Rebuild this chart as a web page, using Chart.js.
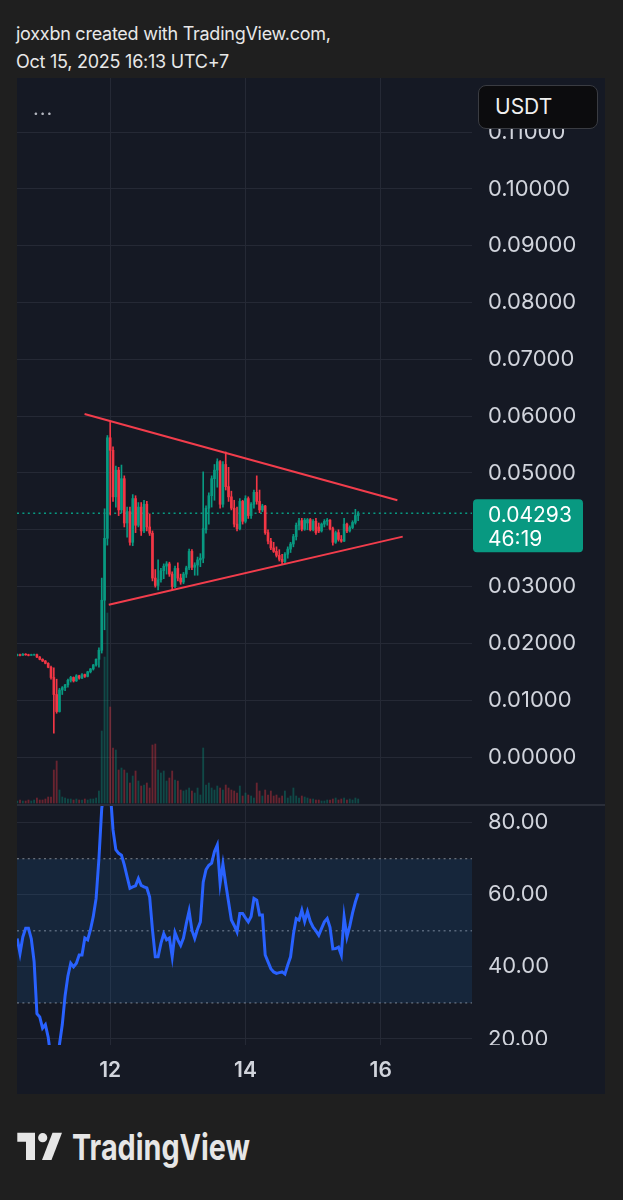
<!DOCTYPE html>
<html>
<head>
<meta charset="utf-8">
<script src="https://cdn.jsdelivr.net/npm/chart.js@4.4.1/dist/chart.umd.min.js"></script>
<style>
  html, body { margin: 0; padding: 0; background: #1f1f1f; }
  body { width: 623px; height: 1200px; position: relative; overflow: hidden; font-family: Inter, "Noto Sans", sans-serif; }
  .hdr { position: absolute; left: 16px; color: #e8e8e8; font-size: 18px; letter-spacing: -0.25px; line-height: 20px; white-space: nowrap; }
  #panel { position: absolute; left: 17px; top: 78px; width: 588px; height: 1016px; background: #151924; }
  canvas { position: absolute; left: 17px; }
  #priceCanvas { top: 78px; }
  #rsiCanvas { top: 805px; }
  #sep { position: absolute; left: 17px; top: 804px; width: 588px; height: 2px; background: #2a2e39; }
  #dots { position: absolute; left: 33px; top: 98px; color: #b2b5be; font-size: 20px; line-height: 20px; letter-spacing: 1px; }
  #unit { position: absolute; left: 478px; top: 85px; width: 120px; height: 44px; box-sizing: border-box;
          background: #0c0c0e; border: 1px solid #3a3c42; border-radius: 8px; color: #f0f0f0;
          font-size: 21px; line-height: 42px; padding-left: 16px; }
  #logo { position: absolute; left: 0; top: 1120px; }
</style>
</head>
<body>
<div class="hdr" style="top:24px">joxxbn created with TradingView.com,</div>
<div class="hdr" style="top:52px">Oct 15, 2025 16:13 UTC+7</div>
<div id="panel"></div>
<canvas id="priceCanvas" width="588" height="727"></canvas>
<canvas id="rsiCanvas" width="588" height="289"></canvas>
<div id="sep"></div>
<div id="dots">...</div>
<div id="unit">USDT</div>
<svg id="logo" width="320" height="60" viewBox="0 1120 320 60">
  <polygon points="17.3,1132.7 35,1132.7 35,1160 26,1160 26,1141.7 17.3,1141.7" fill="#e6e6e6"/>
  <circle cx="42.7" cy="1137.7" r="4.6" fill="#e6e6e6"/>
  <polygon points="52.5,1132.7 62,1132.7 51.5,1160 42,1160" fill="#e6e6e6"/>
  <text x="72" y="1160" font-family="Inter, 'Noto Sans', sans-serif" font-size="36" font-weight="700"
        textLength="178" lengthAdjust="spacingAndGlyphs" fill="#e6e6e6">TradingView</text>
</svg>
<script>
// hourly candles; hour 0 = Oct 12 00:00 (UTC+7), first candle Oct 10 15:00
const firstHour = -33;

const opens = [
  0.0179, 0.0180, 0.0179, 0.0181, 0.0180, 0.0179, 0.0180, 0.0180, 0.0176, 0.0172,
  0.0169, 0.0165, 0.0158, 0.0140, 0.0110, 0.0080, 0.0118, 0.0122, 0.0127, 0.0135,
  0.0140, 0.0134, 0.0143, 0.0139, 0.0145, 0.0142, 0.0150, 0.0155, 0.0162, 0.0172,
  0.0188, 0.0276, 0.0385, 0.0562, 0.0540, 0.0458, 0.0505, 0.0435, 0.0490, 0.0412,
  0.0432, 0.0378, 0.0455, 0.0408, 0.0440, 0.0398, 0.0445, 0.0405, 0.0394, 0.0315,
  0.0302, 0.0312, 0.0328, 0.0336, 0.0340, 0.0322, 0.0300, 0.0332, 0.0315, 0.0308,
  0.0322, 0.0333, 0.0362, 0.0334, 0.0338, 0.0347, 0.0350, 0.0400, 0.0438, 0.0460,
  0.0490, 0.0505, 0.0520, 0.0445, 0.0515, 0.0476, 0.0458, 0.0438, 0.0410, 0.0402,
  0.0450, 0.0415, 0.0455, 0.0425, 0.0445, 0.0466, 0.0450, 0.0435, 0.0442, 0.0395,
  0.0380, 0.0368, 0.0362, 0.0355, 0.0348, 0.0344, 0.0357, 0.0366, 0.0375, 0.0388,
  0.0408, 0.0416, 0.0401, 0.0412, 0.0418, 0.0400, 0.0415, 0.0405, 0.0398, 0.0410,
  0.0415, 0.0417, 0.0402, 0.0378, 0.0395, 0.0383, 0.0380, 0.0410, 0.0398, 0.0404,
  0.0413, 0.0425
];
const highs = [
  0.0181, 0.0181, 0.0182, 0.0182, 0.0181, 0.0181, 0.0181, 0.0181, 0.0177, 0.0173,
  0.0170, 0.0166, 0.0160, 0.0157, 0.0137, 0.0121, 0.0124, 0.0128, 0.0137, 0.0142,
  0.0141, 0.0145, 0.0144, 0.0147, 0.0146, 0.0151, 0.0156, 0.0163, 0.0173, 0.0192,
  0.0315, 0.0437, 0.0566, 0.0590, 0.0546, 0.0512, 0.0510, 0.0514, 0.0495, 0.0440,
  0.0440, 0.0462, 0.0460, 0.0448, 0.0448, 0.0452, 0.0450, 0.0428, 0.0398, 0.0330,
  0.0347, 0.0332, 0.0340, 0.0344, 0.0343, 0.0326, 0.0336, 0.0342, 0.0322, 0.0325,
  0.0336, 0.0366, 0.0365, 0.0342, 0.0352, 0.0358, 0.0502, 0.0442, 0.0465, 0.0495,
  0.0515, 0.0525, 0.0522, 0.0520, 0.0537, 0.0510, 0.0468, 0.0452, 0.0440, 0.0455,
  0.0452, 0.0460, 0.0458, 0.0448, 0.0470, 0.0495, 0.0470, 0.0445, 0.0443, 0.0400,
  0.0385, 0.0378, 0.0370, 0.0365, 0.0357, 0.0360, 0.0370, 0.0378, 0.0392, 0.0412,
  0.0420, 0.0420, 0.0420, 0.0420, 0.0420, 0.0418, 0.0420, 0.0412, 0.0412, 0.0418,
  0.0420, 0.0418, 0.0405, 0.0398, 0.0400, 0.0390, 0.0420, 0.0412, 0.0407, 0.0416,
  0.0436, 0.0432
];
const lows = [
  0.0178, 0.0178, 0.0179, 0.0179, 0.0178, 0.0179, 0.0179, 0.0175, 0.0171, 0.0168,
  0.0164, 0.0157, 0.0137, 0.0042, 0.0077, 0.0079, 0.0110, 0.0117, 0.0123, 0.0132,
  0.0132, 0.0133, 0.0137, 0.0138, 0.0140, 0.0141, 0.0148, 0.0153, 0.0160, 0.0158,
  0.0183, 0.0224, 0.0373, 0.0426, 0.0450, 0.0440, 0.0425, 0.0430, 0.0405, 0.0387,
  0.0373, 0.0372, 0.0395, 0.0405, 0.0390, 0.0395, 0.0398, 0.0390, 0.0310, 0.0299,
  0.0294, 0.0308, 0.0314, 0.0322, 0.0318, 0.0294, 0.0298, 0.0310, 0.0304, 0.0305,
  0.0316, 0.0330, 0.0330, 0.0320, 0.0320, 0.0335, 0.0342, 0.0394, 0.0410, 0.0440,
  0.0452, 0.0475, 0.0438, 0.0440, 0.0470, 0.0450, 0.0435, 0.0405, 0.0398, 0.0400,
  0.0410, 0.0412, 0.0420, 0.0420, 0.0438, 0.0445, 0.0430, 0.0432, 0.0392, 0.0375,
  0.0365, 0.0360, 0.0352, 0.0345, 0.0340, 0.0342, 0.0350, 0.0360, 0.0370, 0.0382,
  0.0400, 0.0398, 0.0399, 0.0400, 0.0398, 0.0398, 0.0392, 0.0395, 0.0396, 0.0405,
  0.0408, 0.0400, 0.0373, 0.0376, 0.0380, 0.0378, 0.0379, 0.0395, 0.0396, 0.0402,
  0.0410, 0.0416
];
const closes = [
  0.0180, 0.0179, 0.0181, 0.0180, 0.0179, 0.0180, 0.0180, 0.0176, 0.0172, 0.0169,
  0.0165, 0.0158, 0.0140, 0.0110, 0.0080, 0.0118, 0.0122, 0.0127, 0.0135, 0.0140,
  0.0134, 0.0143, 0.0139, 0.0145, 0.0142, 0.0150, 0.0155, 0.0162, 0.0172, 0.0188,
  0.0276, 0.0385, 0.0562, 0.0540, 0.0458, 0.0505, 0.0435, 0.0490, 0.0412, 0.0432,
  0.0378, 0.0455, 0.0408, 0.0440, 0.0398, 0.0445, 0.0405, 0.0394, 0.0315, 0.0302,
  0.0312, 0.0328, 0.0336, 0.0340, 0.0322, 0.0300, 0.0332, 0.0315, 0.0308, 0.0322,
  0.0333, 0.0362, 0.0334, 0.0338, 0.0347, 0.0350, 0.0402, 0.0438, 0.0460, 0.0490,
  0.0505, 0.0520, 0.0445, 0.0515, 0.0476, 0.0458, 0.0438, 0.0410, 0.0402, 0.0450,
  0.0415, 0.0455, 0.0425, 0.0445, 0.0466, 0.0450, 0.0435, 0.0442, 0.0395, 0.0380,
  0.0368, 0.0362, 0.0355, 0.0348, 0.0344, 0.0357, 0.0366, 0.0375, 0.0388, 0.0408,
  0.0416, 0.0401, 0.0417, 0.0418, 0.0400, 0.0415, 0.0395, 0.0398, 0.0410, 0.0415,
  0.0417, 0.0402, 0.0378, 0.0395, 0.0383, 0.0380, 0.0410, 0.0398, 0.0404, 0.0413,
  0.0425, 0.04293
];
// relative volume per candle
const volumes = [
    2,   3,   2,   2,   3,   2,   3,   5,   3,   3,
    4,   6,   6,  33,  42,  13,   6,   5,   4,   4,
    3,   4,   3,   3,   4,   3,   4,   4,   5,  12,
   72, 146, 190,  96,  55,  53,  33,  35,  33,  30,
   20,  27,  32,  22,  17,  18,  20,  15,  58,  59,
   33,  30,  32,  22,  25,  32,  23,  22,  13,  12,
   13,  15,  12,  10,  15,   8,  55,  18,  20,  15,
   13,  17,  15,  13,  18,  15,  13,  12,  10,  17,
    7,  10,   8,   7,   5,  20,  12,   7,  13,   8,
   12,   7,   8,   5,   7,  12,   5,   7,  15,   7,
    5,   7,   6,   5,   4,   4,   3,   3,   2,   2,
    3,   3,   4,   5,   3,   4,   5,   3,   4,   3,
    5,   4
];
// RSI(14) per candle
const rsi = [
  47.9, 43.7, 48.3, 50.7, 50.7, 47.8, 41.5, 27.0, 26.1, 23.0,
  24.0, 20.5, 14.5, 11.0, 10.0, 18.5, 24.0, 32.0, 37.5, 41.0,
  40.0, 41.0, 43.3, 43.3, 48.0, 47.5, 50.3, 54.0, 59.0, 70.0,
  84.0, 90.0, 93.0, 89.0, 78.0, 72.5, 71.5, 71.0, 68.3, 65.0,
  61.8, 62.2, 62.5, 64.5, 62.6, 62.2, 61.9, 59.4, 50.3, 42.8,
  42.8, 46.5, 49.2, 47.5, 48.0, 42.8, 49.5, 47.5, 46.0, 48.0,
  52.0, 55.5, 50.2, 47.9, 50.5, 52.5, 63.5, 67.0, 68.2, 68.8,
  72.0, 73.8, 63.2, 68.5, 63.0, 58.0, 53.0, 51.5, 49.7, 54.8,
  54.8, 53.6, 52.5, 54.0, 59.0, 58.5, 54.4, 54.4, 43.3, 41.4,
  39.5, 38.6, 38.2, 38.4, 38.6, 38.0, 40.5, 42.8, 49.0, 53.4,
  53.0, 55.7, 52.6, 55.3, 52.6, 51.0, 50.0, 48.8, 50.7, 52.5,
  53.4, 51.0, 45.0, 45.1, 45.5, 43.3, 53.9, 48.3, 51.3, 55.0,
  58.0, 60.4
];

const lastPrice = 0.04293;
const countdown = '46:19';
const dayTickHours = [0, 48, 96];
const dayTickLabels = ['12', '14', '16'];
const rsiLevels = [70, 50, 30];
const upperTrend = [{ x: -9.1, y: 0.0604 }, { x: 101.9, y: 0.0452 }];
const lowerTrend = [{ x: -0.5, y: 0.0268 }, { x: 103.8, y: 0.0388 }];

// visible window
const X_MIN = -33.07, X_MAX = 128.38;
const P_MIN = -0.00845, P_MAX = 0.11954;
const R_MIN = 18.33, R_MAX = 84.91;

const UP = '#089981';
const DOWN = '#f23645';
const UP_VOL = 'rgba(8,153,129,0.38)';
const DOWN_VOL = 'rgba(242,54,69,0.38)';
const GRID = '#252935';
const TEXT = '#d1d4dc';
const BG = '#151924';
const AXIS_W = 133;

Chart.defaults.font.family = "Inter, 'Noto Sans', sans-serif";
Chart.defaults.color = TEXT;

const isUp = opens.map((o, i) => closes[i] >= o);
const hourAt = (i) => firstHour + i;

const dayTicks = (s) => { s.ticks = dayTickHours.map((v) => ({ value: v })); };
// keep the plot area flush with the canvas edges (no label padding)
const noPad = (s) => { s.paddingTop = 0; s.paddingBottom = 0; s.paddingLeft = 0; s.paddingRight = 0; };

const lastPriceTag = {
  id: 'lastPriceTag',
  afterDraw(chart) {
    const { ctx, chartArea, scales } = chart;
    const py = scales.y.getPixelForValue(lastPrice);
    ctx.save();
    ctx.fillStyle = UP;
    ctx.beginPath();
    ctx.roundRect(chartArea.right + 1, py - 14, 110, 53, 4);
    ctx.fill();
    ctx.fillStyle = '#ffffff';
    ctx.font = "21px Inter, 'Noto Sans', sans-serif";
    ctx.textAlign = 'left';
    ctx.textBaseline = 'alphabetic';
    ctx.fillText(lastPrice.toFixed(5), chartArea.right + 16, py + 9);
    ctx.fillText(countdown, chartArea.right + 16, py + 33);
    ctx.restore();
  },
};

// the RSI pane cuts its lowest axis label off at the pane edge
const paneClip = {
  id: 'paneClip',
  afterDraw(chart) {
    const { ctx, chartArea, width, height } = chart;
    ctx.save();
    ctx.fillStyle = BG;
    ctx.fillRect(chartArea.right, chartArea.bottom, width - chartArea.right, height - chartArea.bottom);
    ctx.restore();
  },
};

const barBase = { grouped: false, borderWidth: 0, borderSkipped: false };

new Chart(document.getElementById('priceCanvas'), {
  type: 'bar',
  data: {
    datasets: [
      {
        type: 'line', label: 'upper', data: upperTrend, order: 0,
        borderColor: '#f23d4c', borderWidth: 2, pointRadius: 0, yAxisID: 'y',
      },
      {
        type: 'line', label: 'lower', data: lowerTrend, order: 0,
        borderColor: '#f23d4c', borderWidth: 2, pointRadius: 0, yAxisID: 'y',
      },
      {
        ...barBase, label: 'body', order: 1, yAxisID: 'y', barThickness: 2,
        data: opens.map((o, i) => ({ x: hourAt(i), y: [o, closes[i]] })),
        backgroundColor: isUp.map((u) => (u ? UP : DOWN)),
      },
      {
        ...barBase, label: 'wick', order: 2, yAxisID: 'y', barThickness: 1,
        data: lows.map((l, i) => ({ x: hourAt(i), y: [l, highs[i]] })),
        backgroundColor: isUp.map((u) => (u ? UP : DOWN)),
      },
      {
        type: 'line', label: 'last', order: 3, yAxisID: 'y',
        data: [{ x: X_MIN, y: lastPrice }, { x: X_MAX, y: lastPrice }],
        borderColor: UP, borderWidth: 1.5, borderDash: [2, 3.4], pointRadius: 0,
      },
      {
        ...barBase, label: 'volume', order: 4, yAxisID: 'yVol', barThickness: 1.2,
        data: volumes.map((v, i) => ({ x: hourAt(i), y: v })),
        backgroundColor: isUp.map((u) => (u ? UP_VOL : DOWN_VOL)),
      },
    ],
  },
  options: {
    responsive: false,
    animation: false,
    events: [],
    layout: { padding: 0, autoPadding: false },
    plugins: { legend: { display: false }, tooltip: { enabled: false } },
    scales: {
      x: {
        type: 'linear', min: X_MIN, max: X_MAX, offset: false,
        afterBuildTicks: dayTicks,
        afterFit: noPad,
        ticks: { display: false },
        grid: { color: GRID, drawTicks: false, offset: false },
        border: { display: false },
      },
      y: {
        position: 'right', min: P_MIN, max: P_MAX,
        afterFit: (s) => { s.width = AXIS_W; noPad(s); },
        ticks: {
          stepSize: 0.01, includeBounds: false, padding: 16,
          font: { size: 22 }, color: TEXT,
          callback: (v) => Math.abs(v).toFixed(5),
        },
        grid: { color: GRID, drawTicks: false },
        border: { display: false },
      },
      yVol: { display: false, min: -2, max: 725 },
    },
  },
  plugins: [lastPriceTag],
});

new Chart(document.getElementById('rsiCanvas'), {
  type: 'line',
  data: {
    datasets: [
      {
        label: 'RSI', order: 0, clip: 0,
        data: rsi.map((v, i) => ({ x: hourAt(i), y: v })),
        borderColor: '#2962ff', borderWidth: 3, pointRadius: 0, tension: 0,
      },
      {
        label: 'upper band', order: 1,
        data: [{ x: X_MIN, y: rsiLevels[0] }, { x: X_MAX, y: rsiLevels[0] }],
        borderColor: 'rgba(178,181,190,0.7)', borderWidth: 1, borderDash: [2, 3.4], pointRadius: 0,
        fill: '+2', backgroundColor: 'rgba(33,150,243,0.11)',
      },
      {
        label: 'middle', order: 1,
        data: [{ x: X_MIN, y: rsiLevels[1] }, { x: X_MAX, y: rsiLevels[1] }],
        borderColor: 'rgba(178,181,190,0.7)', borderWidth: 1, borderDash: [2, 3.4], pointRadius: 0,
      },
      {
        label: 'lower band', order: 1,
        data: [{ x: X_MIN, y: rsiLevels[2] }, { x: X_MAX, y: rsiLevels[2] }],
        borderColor: 'rgba(178,181,190,0.7)', borderWidth: 1, borderDash: [2, 3.4], pointRadius: 0,
      },
    ],
  },
  options: {
    responsive: false,
    animation: false,
    events: [],
    layout: { padding: 0, autoPadding: false },
    plugins: { legend: { display: false }, tooltip: { enabled: false } },
    scales: {
      x: {
        type: 'linear', min: X_MIN, max: X_MAX, offset: false,
        afterBuildTicks: dayTicks,
        afterFit: (s) => { s.height = 49; noPad(s); },
        ticks: {
          padding: 13, maxRotation: 0, autoSkip: false,
          font: { size: 21, weight: '600' }, color: TEXT,
          callback: (v) => dayTickLabels[dayTickHours.indexOf(v)] ?? '',
        },
        grid: { color: GRID, drawTicks: false },
        border: { display: false },
      },
      y: {
        position: 'right', min: R_MIN, max: R_MAX,
        afterFit: (s) => { s.width = AXIS_W; noPad(s); },
        ticks: {
          stepSize: 20, includeBounds: false, padding: 16,
          font: { size: 22 }, color: TEXT,
          callback: (v) => v.toFixed(2),
        },
        grid: { color: GRID, drawTicks: false },
        border: { display: false },
      },
    },
  },
  plugins: [paneClip],
});
</script>
</body>
</html>
